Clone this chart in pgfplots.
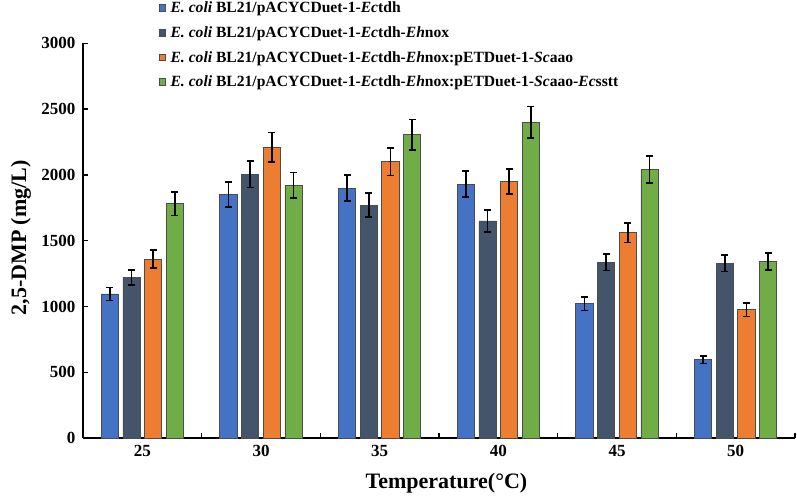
\documentclass[border=0pt]{standalone}
\usepackage{fontspec}
\setmainfont{Liberation Serif}
\usepackage{pgfplots}
\usepackage{pgfplotstable}
\pgfplotsset{compat=1.18}

\definecolor{cblue}{HTML}{4472C4}
\definecolor{cdark}{HTML}{44546A}
\definecolor{corange}{HTML}{ED7D31}
\definecolor{cgreen}{HTML}{70AD47}

% x = temperature index (25,30,...,50), y = 2,5-DMP, e = error
\pgfplotstableread{
x y e
0 1095 50
1 1850 95
2 1900 100
3 1930 100
4 1020 50
5 595 30
}\tdh
\pgfplotstableread{
x y e
0 1220 58
1 2005 100
2 1770 90
3 1650 85
4 1335 63
5 1330 63
}\nox
\pgfplotstableread{
x y e
0 1360 68
1 2210 112
2 2100 105
3 1950 95
4 1560 75
5 975 50
}\aao
\pgfplotstableread{
x y e
0 1780 90
1 1920 97
2 2305 115
3 2400 120
4 2040 103
5 1340 65
}\sstt

\pgfplotsset{
  mybar/.style={
    ybar, bar width=0.145, bar shift=0pt,
    draw=black!70, line width=0.8bp,
    /pgfplots/error bars/y dir=both,
    /pgfplots/error bars/y explicit,
    /pgfplots/error bars/error bar style={line width=1.6bp, black},
    /pgfplots/error bars/error mark options={rotate=90, mark size=3.4bp, line width=1.6bp, black},
  },
  sqlegend/.style={
    legend image code/.code={
      \draw[##1, draw=black!70, line width=0.6bp] (0bp,-2bp) rectangle (6.6bp,4.6bp);
    },
  },
}

\begin{document}
\begin{tikzpicture}
\begin{axis}[
  at={(0,0)}, anchor=south west, scale only axis,
  width=712bp, height=394.7bp,
  xmin=-0.5, xmax=5.5, ymin=0, ymax=3000,
  axis x line*=bottom, axis y line*=left,
  axis line style={line width=1.4bp, black},
  xtick={0.5,1.5,2.5,3.5,4.5,5.5}, xticklabels={},
  extra x ticks={0,1,2,3,4,5},
  extra x tick labels={25,30,35,40,45,50},
  extra x tick style={major tick length=0pt},
  ytick={0,500,1000,1500,2000,2500,3000},
  yticklabels={0,500,1000,1500,2000,2500,3000},
  tick align=inside, major tick length=5bp,
  tick style={line width=1.4bp, black},
  tick label style={font=\bfseries\fontsize{17bp}{17bp}\selectfont},
  xticklabel style={yshift=-4bp},
  yticklabel style={xshift=-4bp},
  xlabel={Temperature(°C)},
  ylabel={2,5-DMP (mg/L)},
  every axis x label/.style={at={(axis description cs:0.5105,-0.114)}, anchor=center,
    font=\bfseries\fontsize{22bp}{22bp}\selectfont},
  every axis y label/.style={at={(axis description cs:-0.0871,0.507)}, rotate=90, anchor=center,
    font=\bfseries\fontsize{22bp}{22bp}\selectfont},
  legend style={
    at={(axis description cs:0.1063,1.1050)}, anchor=north west,
    draw=none, fill=none, inner sep=0pt,
    font=\bfseries\fontsize{15.6bp}{15.6bp}\selectfont,
    row sep=10bp, column sep=4.5bp,
    nodes={inner xsep=0pt, inner ysep=0pt, text height=10.8bp, text depth=3.8bp, anchor=west},
  },
  legend cell align=left,
  clip=false,
]
\addplot[mybar, fill=cblue, sqlegend] table[x expr=\thisrow{x}-0.274, y=y, y error=e] {\tdh};
\addplot[mybar, fill=cdark, sqlegend] table[x expr=\thisrow{x}-0.091, y=y, y error=e] {\nox};
\addplot[mybar, fill=corange, sqlegend] table[x expr=\thisrow{x}+0.091, y=y, y error=e] {\aao};
\addplot[mybar, fill=cgreen, sqlegend] table[x expr=\thisrow{x}+0.274, y=y, y error=e] {\sstt};
\legend{
  \textit{E. coli} BL21/pACYCDuet-1-\textit{Ec}tdh,
  \textit{E. coli} BL21/pACYCDuet-1-\textit{Ec}tdh-\textit{Eh}nox,
  \textit{E. coli} BL21/pACYCDuet-1-\textit{Ec}tdh-\textit{Eh}nox:pETDuet-1-\textit{Sc}aao,
  \textit{E. coli} BL21/pACYCDuet-1-\textit{Ec}tdh-\textit{Eh}nox:pETDuet-1-\textit{Sc}aao-\textit{Ec}sstt
}
\end{axis}
\pgfresetboundingbox
\path (-83bp,-58bp) rectangle (714bp,438bp);
\end{tikzpicture}
\end{document}
